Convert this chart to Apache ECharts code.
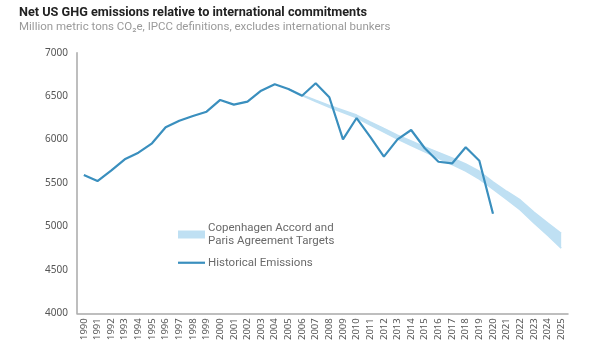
<!DOCTYPE html>
<html>
<head>
<meta charset="utf-8">
<script src="https://cdn.jsdelivr.net/npm/echarts@6/dist/echarts.min.js"></script>
<style>
  html, body { margin: 0; padding: 0; background: #fff; }
  #chart { width: 595px; height: 348px; }
</style>
</head>
<body>
<div id="chart"></div>
<script>
// Years on the category axis
const years = [];
for (let y = 1990; y <= 2025; y++) years.push(String(y));

// Net US GHG emissions, million metric tons CO2e (1990–2020)
const historical = [
  5592, 5523, 5642, 5773, 5849, 5957, 6141, 6217, 6271, 6321,
  6456, 6402, 6436, 6563, 6636, 6582, 6505, 6648, 6487, 6003,
  6248, 6030, 5803, 6003, 6110, 5900, 5745, 5725, 5912, 5757,
  5147, null, null, null, null, null
];

// Target pathway (2005–2025): lower and upper bounds
const targetLow = [
  null, null, null, null, null, null, null, null, null, null,
  null, null, null, null, null, 6582, 6506, 6438, 6372, 6312,
  6250, 6168, 6085, 6005, 5932, 5858, 5785, 5712, 5638, 5545,
  5428, 5310, 5190, 5040, 4900, 4750
];
const targetHigh = [
  null, null, null, null, null, null, null, null, null, null,
  null, null, null, null, null, 6582, 6514, 6452, 6392, 6338,
  6282, 6204, 6127, 6051, 5984, 5916, 5853, 5788, 5720, 5635,
  5512, 5405, 5305, 5165, 5040, 4920
];

const yTicks = [4000, 4500, 5000, 5500, 6000, 6500, 7000];

const bandName = 'Copenhagen Accord and\nParis Agreement Targets';
const lineName = 'Historical Emissions';

const bandColor = '#bfe0f3';
const lineColor = '#3a8fbe';
const axisGrey = '#a9a9a9';
const font = 'Noto Sans';
const headFont = 'Roboto';

const chart = echarts.init(document.getElementById('chart'), null, { renderer: 'canvas' });

chart.setOption({
  animation: false,
  textStyle: { fontFamily: font },
  title: [
    {
      text: 'Net US GHG emissions relative to international commitments',
      left: 14, top: 1,
      textStyle: { fontFamily: headFont, fontSize: 12.7, fontWeight: 'bold', color: '#222' }
    },
    {
      text: 'Million metric tons CO\u2082e, IPCC definitions, excludes international bunkers',
      left: 14, top: 16,
      textStyle: { fontFamily: headFont, fontSize: 11.5, fontWeight: 'normal', color: '#9a9a9a' }
    }
  ],
  legend: {
    orient: 'vertical',
    left: 178, top: 221,
    padding: 0,
    itemWidth: 27, itemHeight: 8,
    itemGap: 8,
    data: [
      { name: bandName, icon: 'rect' },
      { name: lineName, icon: 'path://M0,0h27v2.2h-27z' }
    ],
    textStyle: { fontFamily: headFont, fontSize: 11.5, color: '#6a6a6a', lineHeight: 13.5, padding: [0, 0, 0, -2] }
  },
  grid: { left: 77, right: 27, top: 52.7, bottom: 34.7, containLabel: false },
  xAxis: {
    type: 'category',
    data: years,
    boundaryGap: true,
    axisLine: { show: true, lineStyle: { color: axisGrey, width: 1.5 } },
    axisTick: { show: false },
    axisLabel: { rotate: 90, fontSize: 9.5, color: '#555', margin: 5, interval: 0, fontFamily: font }
  },
  yAxis: {
    type: 'value',
    min: yTicks[0], max: yTicks[yTicks.length - 1], interval: 500,
    axisLine: { show: true, lineStyle: { color: axisGrey, width: 1.5 } },
    axisTick: { show: false },
    splitLine: { show: false },
    axisLabel: { fontSize: 10, color: '#555', margin: 9, fontFamily: font, formatter: v => String(v) }
  },
  series: [
    {
      name: 'band-base',
      type: 'line',
      stack: 'band',
      data: targetLow,
      symbol: 'none',
      lineStyle: { color: bandColor, width: 1.5 },
      silent: true,
      z: 1
    },
    {
      name: bandName,
      type: 'line',
      stack: 'band',
      data: targetHigh.map((v, i) => (v == null || targetLow[i] == null) ? null : v - targetLow[i]),
      symbol: 'none',
      itemStyle: { color: bandColor },
      lineStyle: { color: bandColor, width: 1.5 },
      areaStyle: { color: bandColor, opacity: 1 },
      silent: true,
      z: 1
    },
    {
      name: lineName,
      type: 'line',
      data: historical,
      symbol: 'none',
      itemStyle: { color: lineColor },
      lineStyle: { color: lineColor, width: 2.2 },
      z: 3
    }
  ]
});
</script>
</body>
</html>
